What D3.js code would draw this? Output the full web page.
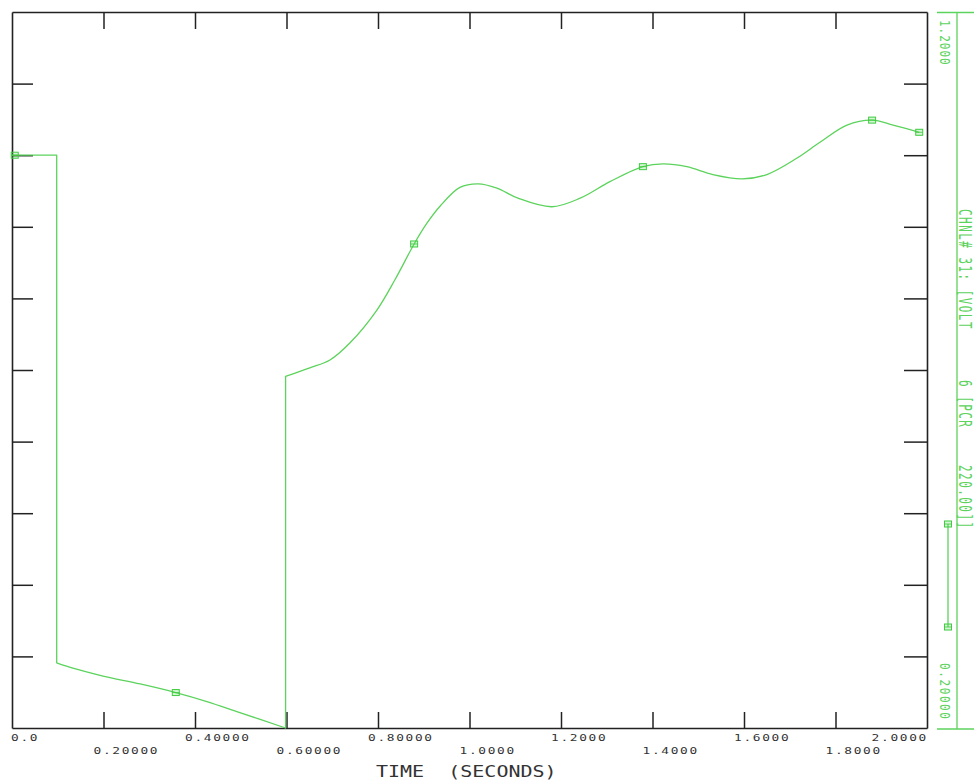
<!DOCTYPE html>
<html>
<head>
<meta charset="utf-8">
<script src="https://cdn.jsdelivr.net/npm/d3@7/dist/d3.min.js"></script>
<style>
  html, body { margin: 0; padding: 0; background: #ffffff; }
  svg { display: block; }
  text { font-family: "DejaVu Sans Mono", "Liberation Mono", monospace; }
</style>
</head>
<body>
<svg id="chart" width="974" height="781"></svg>
<script>
// ---- data ----
const times = [0, 0.0977, 0.0977, 0.133, 0.199, 0.280, 0.358, 0.426, 0.498, 0.598,
  0.598, 0.651, 0.695, 0.739, 0.798, 0.837, 0.879, 0.907, 0.936, 0.979, 1.019, 1.060,
  1.106, 1.180, 1.242, 1.307, 1.379, 1.423, 1.475, 1.532, 1.596, 1.650, 1.716, 1.766,
  1.825, 1.880, 1.926, 1.983];
const values = [1.0, 1.0, 0.291, 0.2835, 0.2725, 0.2615, 0.2495, 0.237, 0.2215, 0.200,
  0.691, 0.703, 0.714, 0.738, 0.784, 0.826, 0.876, 0.905, 0.929, 0.955, 0.960, 0.954,
  0.940, 0.928, 0.940, 0.963, 0.984, 0.988, 0.984, 0.973, 0.967, 0.973, 0.996, 1.018,
  1.042, 1.049, 1.042, 1.032];
const markerTimes = [0.006, 0.358, 0.879, 1.379, 1.880, 1.983];
const markerValues = [1.0, 0.2495, 0.876, 0.984, 1.049, 1.032];
const xTicks = [0, 0.2, 0.4, 0.6, 0.8, 1.0, 1.2, 1.4, 1.6, 1.8, 2.0];
const xTickLabels = ["0.0", "0.20000", "0.40000", "0.60000", "0.80000", "1.0000",
  "1.2000", "1.4000", "1.6000", "1.8000", "2.0000"];
const yTicks = [0.3, 0.4, 0.5, 0.6, 0.7, 0.8, 0.9, 1.0, 1.1];
const yRangeLabels = ["1.2000", "0.20000"];
const channelLabel = ["CHNL# 31: [VOLT", "6 [PCR", "220.00]]"];
const xTitle = "TIME  (SECONDS)";

// ---- layout ----
const GREEN = "#5cd35c";
const INK = "#222";
const svg = d3.select("#chart");
const x = d3.scaleLinear().domain([0, 2]).range([12, 927]);
const y = d3.scaleLinear().domain([0.2, 1.2]).range([728, 12]);

function styleAxis(g) {
  g.select(".domain").attr("stroke", INK).attr("stroke-width", 1.6);
  g.selectAll(".tick line").attr("stroke", INK).attr("stroke-width", 1.5);
  g.selectAll(".tick text").remove();
}
svg.append("g").attr("transform", "translate(0,728)")
  .call(d3.axisBottom(x).tickValues(xTicks.slice(1, -1)).tickSizeInner(-16).tickSizeOuter(0).tickFormat(""))
  .call(styleAxis);
svg.append("g").attr("transform", "translate(0,12)")
  .call(d3.axisTop(x).tickValues(xTicks.slice(1, -1)).tickSizeInner(-17).tickSizeOuter(0).tickFormat(""))
  .call(styleAxis);
svg.append("g").attr("transform", "translate(12,0)")
  .call(d3.axisLeft(y).tickValues(yTicks).tickSizeInner(-21).tickSizeOuter(0).tickFormat(""))
  .call(styleAxis);
svg.append("g").attr("transform", "translate(927,0)")
  .call(d3.axisRight(y).tickValues(yTicks).tickSizeInner(-23).tickSizeOuter(0).tickFormat(""))
  .call(styleAxis);

// ---- x tick labels (two staggered rows) ----
const lab = svg.append("g").attr("fill", "#333").attr("font-size", 9.5).attr("letter-spacing", 1.25);
xTickLabels.forEach((t, i) => {
  const row = i % 2 === 0 ? 741 : 754;
  let px = x(xTicks[i]) - 10;
  let anchor = "start";
  if (i === 0) px = x(xTicks[0]) - 1;
  if (i === xTickLabels.length - 1) { px = x(xTicks[i]) + 1; anchor = "end"; }
  lab.append("text")
    .attr("transform", `translate(${px},${row}) scale(1.35,1)`)
    .attr("text-anchor", anchor)
    .text(t);
});
svg.append("text")
  .attr("transform", "translate(376,777) scale(1.25,1)")
  .attr("fill", "#333").attr("font-size", 16)
  .attr("xml:space", "preserve")
  .style("white-space", "pre")
  .text(xTitle);

// ---- curve ----
const pts = times.map((t, i) => [t, values[i]]);
const segs = [];
let cur = [pts[0]];
for (let i = 1; i < pts.length; i++) {
  if (pts[i][0] === pts[i - 1][0]) { segs.push(cur); cur = [pts[i]]; }
  else cur.push(pts[i]);
}
segs.push(cur);
const line = d3.line().x(d => x(d[0])).y(d => y(d[1])).curve(d3.curveCatmullRom.alpha(0.5));
const dStr = segs.map((s, i) => { const p = line(s); return i === 0 ? p : "L" + p.slice(1); }).join("");
svg.append("path").attr("d", dStr).attr("fill", "none")
  .attr("stroke", GREEN).attr("stroke-width", 1.3).attr("stroke-linejoin", "round");

function marker(g, cx, cy) {
  g.append("rect").attr("x", cx - 3.5).attr("y", cy - 3).attr("width", 7).attr("height", 6)
    .attr("fill", "rgba(92,211,92,0.25)").attr("stroke", "#3fcc3f").attr("stroke-width", 1);
  g.append("line").attr("x1", cx - 3.5).attr("x2", cx + 3.5).attr("y1", cy).attr("y2", cy)
    .attr("stroke", "#3fcc3f").attr("stroke-width", 0.8);
}
const mg = svg.append("g");
markerTimes.forEach((t, i) => marker(mg, x(t), y(markerValues[i])));

// ---- right-hand channel scale ----
const rg = svg.append("g");
rg.append("line").attr("x1", 957).attr("x2", 957).attr("y1", y(1.2)).attr("y2", y(0.2) + 1)
  .attr("stroke", GREEN).attr("stroke-width", 1.3);
rg.append("line").attr("x1", 937).attr("x2", 974).attr("y1", y(1.2) + 0.5).attr("y2", y(1.2) + 0.5)
  .attr("stroke", GREEN).attr("stroke-width", 1.3);
rg.append("line").attr("x1", 937).attr("x2", 974).attr("y1", y(0.2) + 1).attr("y2", y(0.2) + 1)
  .attr("stroke", GREEN).attr("stroke-width", 1.3);

function vtext(txt, bx, sy, scaleY, spacing) {
  rg.append("text")
    .attr("transform", `translate(${bx},${sy}) rotate(90) scale(1,${scaleY})`)
    .attr("fill", GREEN).attr("font-size", 11).attr("letter-spacing", spacing)
    .text(txt);
}
vtext(yRangeLabels[0], 940, 20, 1.33, 1.0);
vtext(yRangeLabels[1], 940, 663, 1.33, 1.6);
vtext(channelLabel[0], 958.5, 209, 1.55, 1.45);
vtext(channelLabel[1], 958.5, 380, 1.55, 1.45);
vtext(channelLabel[2], 958.5, 465, 1.55, 1.45);

// legend sample
rg.append("line").attr("x1", 948).attr("x2", 948).attr("y1", 524).attr("y2", 627)
  .attr("stroke", GREEN).attr("stroke-width", 1.3);
marker(rg, 948, 524);
marker(rg, 948, 627);
</script>
</body>
</html>
